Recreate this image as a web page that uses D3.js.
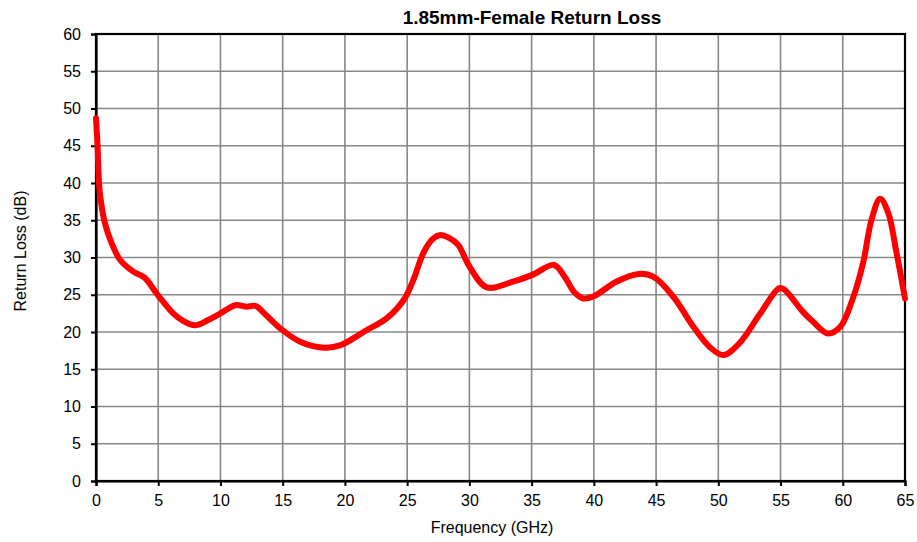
<!DOCTYPE html>
<html>
<head>
<meta charset="utf-8">
<script src="https://cdn.jsdelivr.net/npm/d3@7"></script>
<style>
 body { margin: 0; background: #fff; }
 text { font-family: "Liberation Sans", Arial, sans-serif; fill: #000; }
</style>
</head>
<body>
<div id="chart"></div>
<script>
// frequency (GHz) and return loss (dB)
const freq = [0, 0.12, 0.3, 0.72, 1.26, 1.93, 3.0, 3.9, 4.9, 6.2, 7.0, 7.95, 9.0, 10.0,
 11.2, 12.1, 12.8, 13.7, 14.8, 16.4, 18.3, 19.6, 21.7, 23.4, 24.8, 25.5, 26.3, 27.0, 27.6,
 28.4, 29.1, 30.0, 31.4, 33.5, 35.1, 36.8, 37.7, 38.4, 39.15, 40.0, 41.8, 43.6, 44.8, 46.4,
 48.0, 49.3, 50.4, 51.7, 53.3, 54.9, 55.3, 56.8, 57.6, 58.8, 59.8, 60.85, 61.65, 62.3, 63.0,
 63.65, 64.3, 65.0];
const returnLoss = [48.7, 45.2, 38.8, 34.6, 31.9, 29.7, 28.1, 27.3, 25.1, 22.5, 21.5, 20.9, 21.6, 22.5,
 23.6, 23.4, 23.5, 22.2, 20.5, 18.7, 17.9, 18.2, 20.2, 21.9, 24.5, 27.0, 30.6, 32.4, 33.0,
 32.6, 31.7, 28.8, 26.0, 26.75, 27.7, 29.0, 27.3, 25.4, 24.5, 24.8, 26.75, 27.8, 27.4, 24.7,
 20.7, 18.0, 16.9, 18.5, 22.3, 25.9, 25.7, 22.7, 21.4, 19.8, 20.7, 24.7, 29.4, 35.0, 37.9,
 36.0, 30.8, 24.5];
const xTicks = d3.range(0, 66, 5);
const yTicks = d3.range(0, 61, 5);

const margin = { top: 34, right: 12, bottom: 61, left: 96 };
const width = 917 - margin.left - margin.right;
const height = 542 - margin.top - margin.bottom;

const root = d3.select("#chart").append("svg")
 .attr("width", 917)
 .attr("height", 542);

const svg = root.append("g")
 .attr("transform", `translate(${margin.left},${margin.top})`);

const x = d3.scaleLinear().domain([0, 65]).range([0, width]);
const y = d3.scaleLinear().domain([0, 60]).range([height, 0]);

// grid
svg.append("g").selectAll("line").data(xTicks).enter().append("line")
 .attr("x1", d => x(d)).attr("x2", d => x(d))
 .attr("y1", 0).attr("y2", height)
 .attr("stroke", "#888").attr("stroke-width", 1.6);
svg.append("g").selectAll("line").data(yTicks).enter().append("line")
 .attr("x1", 0).attr("x2", width)
 .attr("y1", d => y(d)).attr("y2", d => y(d))
 .attr("stroke", "#888").attr("stroke-width", 1.6);

// frame
svg.append("rect")
 .attr("width", width).attr("height", height)
 .attr("fill", "none").attr("stroke", "#000").attr("stroke-width", 2.2);

// axes
const xAxis = svg.append("g")
 .attr("transform", `translate(0,${height})`)
 .call(d3.axisBottom(x).tickValues(xTicks).tickSize(5).tickPadding(9));
const yAxis = svg.append("g")
 .call(d3.axisLeft(y).tickValues(yTicks).tickSize(5).tickPadding(10));
[xAxis, yAxis].forEach(a => {
 a.select(".domain").attr("stroke", "#000").attr("stroke-width", 2.2);
 a.selectAll(".tick line").attr("stroke", "#000").attr("stroke-width", 2);
 a.selectAll(".tick text")
  .style("font-family", '"Liberation Sans", Arial, sans-serif')
  .style("font-size", "16px").attr("fill", "#000");
});

// curve
const pts = freq.map((f, i) => [f, returnLoss[i]]);
svg.append("path")
 .datum(pts)
 .attr("fill", "none")
 .attr("stroke", "#ff0000")
 .attr("stroke-width", 6)
 .attr("stroke-linecap", "round")
 .attr("stroke-linejoin", "round")
 .attr("d", d3.line().x(d => x(d[0])).y(d => y(d[1])).curve(d3.curveCatmullRom.alpha(0.5)));

// titles
root.append("text")
 .attr("x", 532).attr("y", 24)
 .attr("text-anchor", "middle")
 .style("font-size", "19px").style("font-weight", "bold")
 .text("1.85mm-Female Return Loss");

root.append("text")
 .attr("x", 492).attr("y", 533)
 .attr("text-anchor", "middle")
 .style("font-size", "16px")
 .text("Frequency (GHz)");

root.append("text")
 .attr("transform", "translate(26,251) rotate(-90)")
 .attr("text-anchor", "middle")
 .style("font-size", "16px")
 .text("Return Loss (dB)");
</script>
</body>
</html>
